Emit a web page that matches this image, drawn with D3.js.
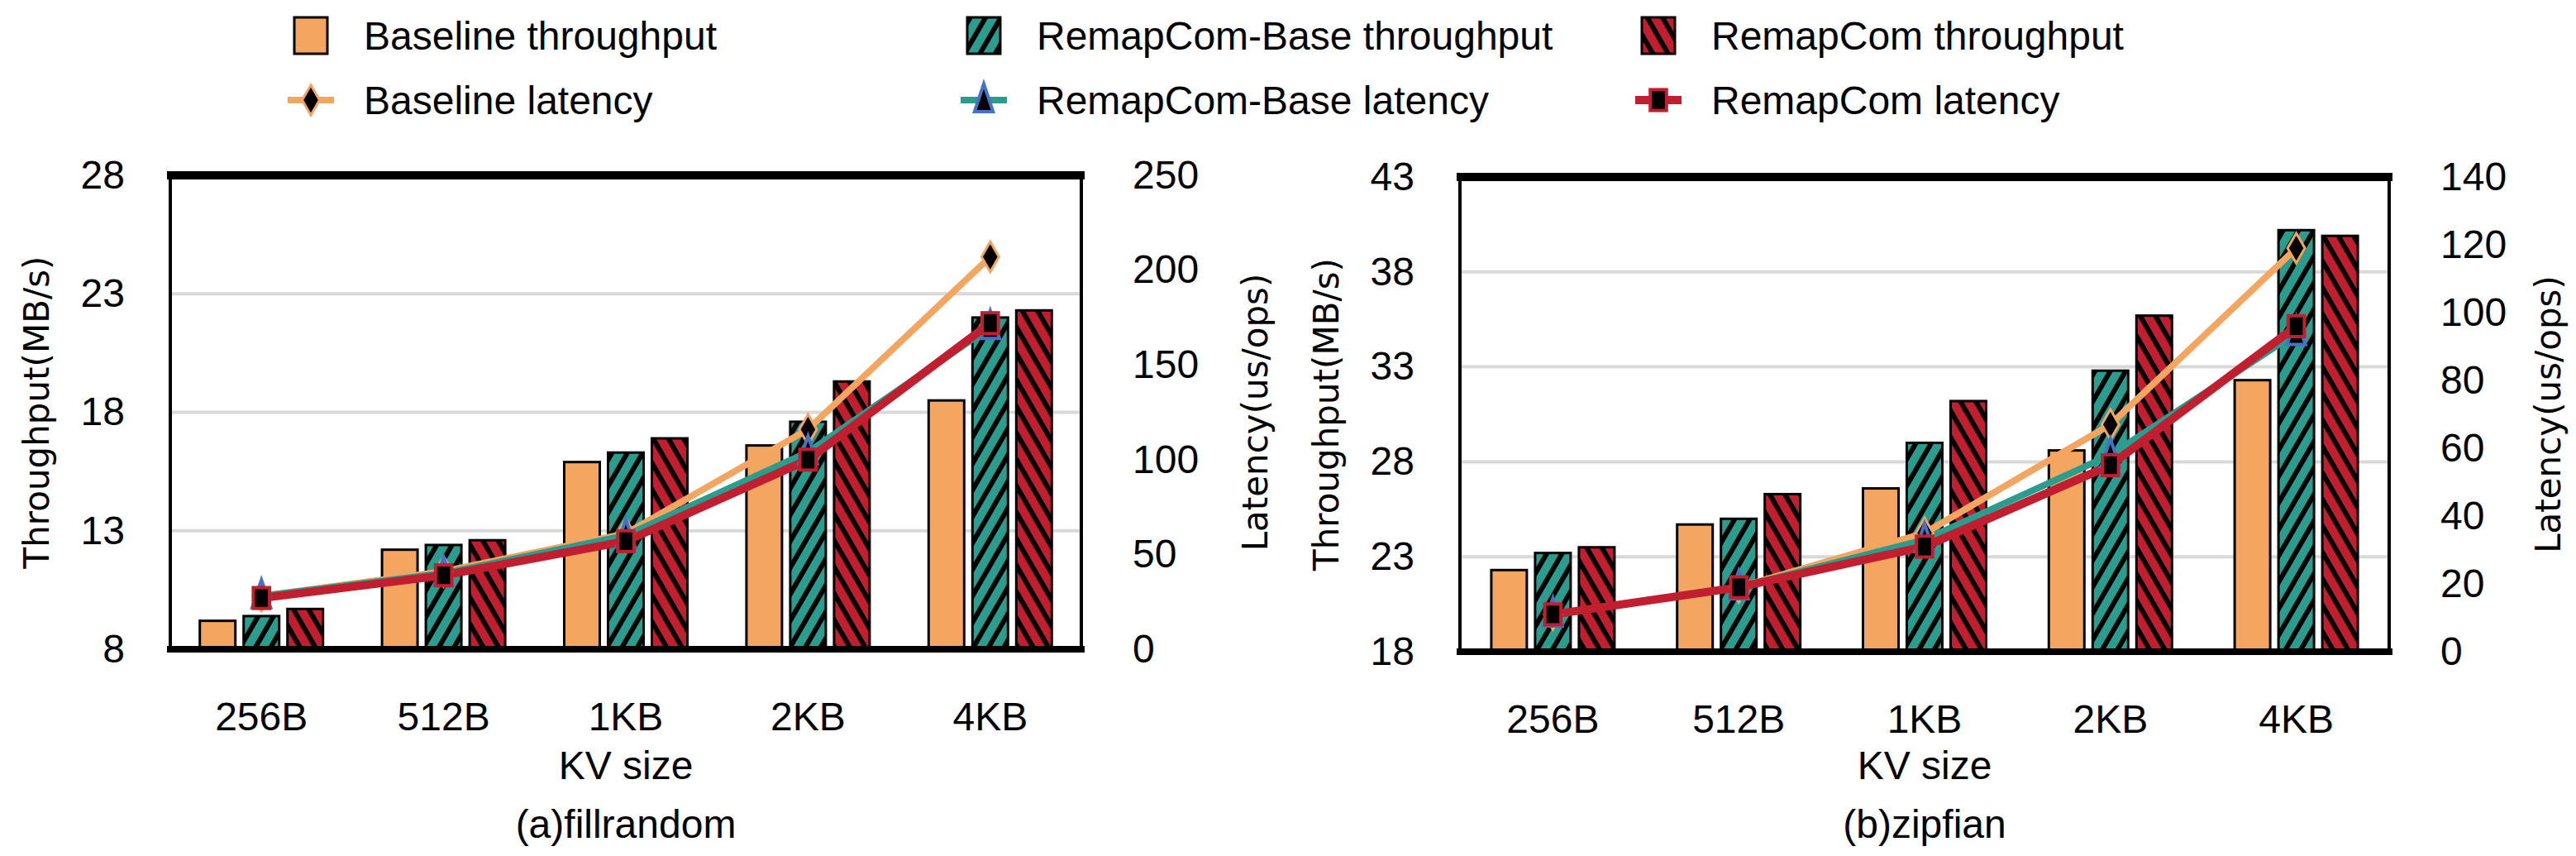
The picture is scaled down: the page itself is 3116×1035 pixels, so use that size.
<!DOCTYPE html>
<html><head><meta charset="utf-8">
<script src="https://cdn.jsdelivr.net/npm/d3@7"></script>
<style>body{margin:0;background:#fff}text{font-family:"Liberation Sans",Arial,sans-serif}</style>
</head><body><svg id="c" width="3116" height="1035"></svg>
<script>
const categories=["256B","512B","1KB","2KB","4KB"];
const seriesNames=["Baseline","RemapCom-Base","RemapCom"];
// (a) fillrandom
const fillThroughputBaseline=[9.2,12.2,15.9,16.6,18.5];
const fillThroughputRemapBase=[9.4,12.4,16.3,17.6,22.0];
const fillThroughputRemap=[9.7,12.6,16.9,19.3,22.3];
const fillLatencyBaseline=[28,41,61,116,207];
const fillLatencyRemapBase=[28,40,60,104,170];
const fillLatencyRemap=[27,39,57,100,172];
const fillLeftTicks=[8,13,18,23,28];
const fillRightTicks=[0,50,100,150,200,250];
// (b) zipfian
const zipThroughputBaseline=[22.3,24.7,26.6,28.6,32.3];
const zipThroughputRemapBase=[23.2,25.0,29.0,32.8,40.2];
const zipThroughputRemap=[23.5,26.3,31.2,35.7,39.9];
const zipLatencyBaseline=[11,19,35,67,119];
const zipLatencyRemapBase=[11,19,33,58,94];
const zipLatencyRemap=[11,19,31,55,96];
const zipLeftTicks=[18,23,28,33,38,43];
const zipRightTicks=[0,20,40,60,80,100,120,140];

const colors={orange:"#F4A661",teal:"#2A9D8F",red:"#C11F30",blue:"#4472C4"};
const svg=d3.select("#c");
const defs=svg.append("defs");
function hatch(id,bg,dir){
  const p=defs.append("pattern").attr("id",id).attr("patternUnits","userSpaceOnUse")
   .attr("width",16).attr("height",16).attr("patternTransform",`rotate(${dir})`);
  p.append("rect").attr("width",16).attr("height",16).attr("fill",bg);
  p.append("rect").attr("x",0).attr("width",6).attr("height",16).attr("fill","#000");
}
hatch("hTeal",colors.teal,30);
hatch("hRed",colors.red,-30);
const barFills=[colors.orange,"url(#hTeal)","url(#hRed)"];
const lineColors=[colors.orange,colors.teal,colors.red];

function marker(g,type,x,y,s){
  if(type==0){g.append("path").attr("d",`M${x},${y-s*1.3}L${x+s*0.75},${y}L${x},${y+s*1.3}L${x-s*0.75},${y}Z`)
     .attr("fill","#000").attr("stroke",colors.orange).attr("stroke-width",3);}
  else if(type==1){g.append("path").attr("d",`M${x},${y-s*1.4}L${x+s*0.8},${y+s}L${x-s*0.8},${y+s}Z`)
     .attr("fill","#000").attr("stroke",colors.blue).attr("stroke-width",4);}
  else {g.append("rect").attr("x",x-s*0.7).attr("y",y-s*0.9).attr("width",s*1.4).attr("height",s*1.8)
     .attr("fill","#000").attr("stroke",colors.red).attr("stroke-width",4);}
}

function chart(o){
  const g=svg.append("g");
  const x=d3.scaleBand().domain(categories).range([o.x0,o.x1]);
  const yl=d3.scaleLinear().domain(o.ld).range([o.y1,o.y0]);
  const yr=d3.scaleLinear().domain(o.rd).range([o.y1,o.y0]);
  g.selectAll(".gl").data(o.lt.slice(1,-1)).join("line")
   .attr("x1",o.x0).attr("x2",o.x1).attr("y1",d=>yl(d)).attr("y2",d=>yl(d))
   .attr("stroke","#d9d9d9").attr("stroke-width",4);
  const bw=43,gap=10;
  o.thr.forEach((arr,si)=>{
    g.selectAll(null).data(arr).join("rect")
     .attr("x",(d,i)=>x(categories[i])+x.bandwidth()/2+(si-1)*(bw+gap)-bw/2)
     .attr("y",d=>yl(d)).attr("width",bw).attr("height",d=>o.y1-yl(d))
     .attr("fill",barFills[si]).attr("stroke","#000").attr("stroke-width",3);
  });
  const cx=i=>x(categories[i])+x.bandwidth()/2;
  o.lat.forEach((arr,si)=>{
    g.append("path").datum(arr)
     .attr("d",d3.line().x((d,i)=>cx(i)).y(d=>yr(d)))
     .attr("fill","none").attr("stroke",lineColors[si]).attr("stroke-width",si==2?10:8);
  });
  o.lat.forEach((arr,si)=>arr.forEach((d,i)=>marker(g,si,cx(i),yr(d),14)));
  g.append("line").attr("x1",o.x0-4).attr("x2",o.x1+4).attr("y1",o.y0).attr("y2",o.y0).attr("stroke","#000").attr("stroke-width",10);
  g.append("line").attr("x1",o.x0-4).attr("x2",o.x1+4).attr("y1",o.y1).attr("y2",o.y1).attr("stroke","#000").attr("stroke-width",8);
  g.append("line").attr("x1",o.x0).attr("x2",o.x0).attr("y1",o.y0).attr("y2",o.y1).attr("stroke","#000").attr("stroke-width",4);
  g.append("line").attr("x1",o.x1).attr("x2",o.x1).attr("y1",o.y0).attr("y2",o.y1).attr("stroke","#000").attr("stroke-width",4);
  const la=g.append("g").attr("transform",`translate(${o.x0-55},0)`)
    .call(d3.axisLeft(yl).tickValues(o.lt).tickSize(0).tickPadding(0));
  const ra=g.append("g").attr("transform",`translate(${o.x1+62},0)`)
    .call(d3.axisRight(yr).tickValues(o.rt).tickSize(0).tickPadding(0));
  const xa=g.append("g").attr("transform",`translate(0,${o.y1+62})`)
    .call(d3.axisBottom(x).tickSize(0).tickPadding(0));
  [la,ra,xa].forEach(a=>{a.select(".domain").remove();
    a.selectAll("text").attr("font-size",48).attr("fill","#000").attr("font-family","Liberation Sans, Arial");});
  xa.selectAll("text").attr("dy","0.75em");
  g.append("text").attr("transform",`translate(${o.x0-162},${(o.y0+o.y1)/2}) rotate(-90)`)
   .attr("text-anchor","middle").attr("dy","0.35em").attr("font-size",42).style("font-family","DejaVu Sans").text("Throughput(MB/s)");
  g.append("text").attr("transform",`translate(${o.x1+o.rto},${(o.y0+o.y1)/2}) rotate(-90)`)
   .attr("text-anchor","middle").attr("dy","0.35em").attr("font-size",42).style("font-family","DejaVu Sans").text("Latency(us/ops)");
  g.append("text").attr("x",(o.x0+o.x1)/2).attr("y",942).attr("text-anchor","middle").attr("font-size",48).text("KV size");
  g.append("text").attr("x",(o.x0+o.x1)/2).attr("y",1013).attr("text-anchor","middle").attr("font-size",48).text(o.caption);
}

chart({x0:206,x1:1308,y0:212,y1:785,ld:[8,28],rd:[0,250],lt:fillLeftTicks,rt:fillRightTicks,rto:210,
  thr:[fillThroughputBaseline,fillThroughputRemapBase,fillThroughputRemap],
  lat:[fillLatencyBaseline,fillLatencyRemapBase,fillLatencyRemap],caption:"(a)fillrandom"});
chart({x0:1766,x1:2890,y0:214,y1:788,ld:[18,43],rd:[0,140],lt:zipLeftTicks,rt:zipRightTicks,rto:192,
  thr:[zipThroughputBaseline,zipThroughputRemapBase,zipThroughputRemap],
  lat:[zipLatencyBaseline,zipLatencyRemapBase,zipLatencyRemap],caption:"(b)zipfian"});

const lx=[356,1170,1986];
const lg=svg.append("g");
seriesNames.forEach((n,i)=>{
  lg.append("rect").attr("x",lx[i]).attr("y",21).attr("width",40).attr("height",44)
    .attr("fill",barFills[i]).attr("stroke","#000").attr("stroke-width",3);
  lg.append("text").attr("x",lx[i]+84).attr("y",43).attr("dy","0.35em").attr("font-size",48).text(n+" throughput");
  lg.append("line").attr("x1",lx[i]-8).attr("x2",lx[i]+48).attr("y1",121).attr("y2",121)
    .attr("stroke",lineColors[i]).attr("stroke-width",i==2?10:8);
  marker(lg,i,lx[i]+20,121,14);
  lg.append("text").attr("x",lx[i]+84).attr("y",121).attr("dy","0.35em").attr("font-size",48).text(n+" latency");
});
</script></body></html>
